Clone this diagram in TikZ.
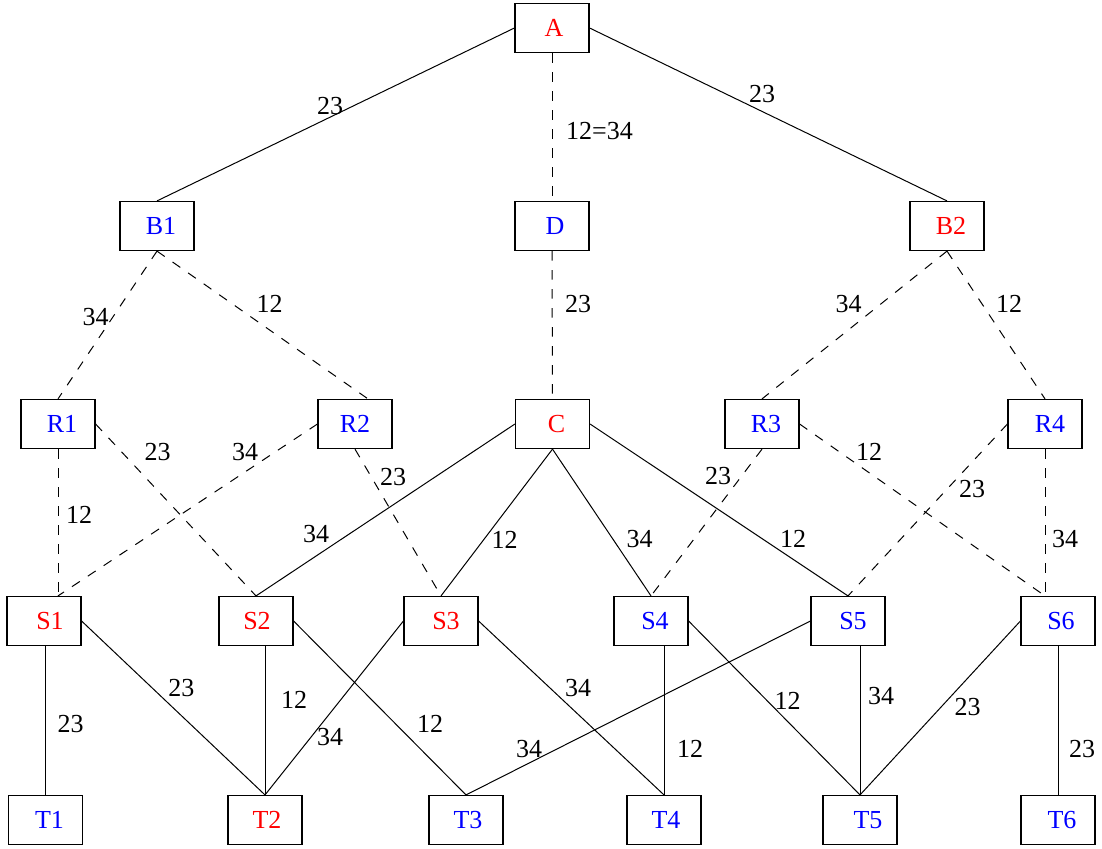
\documentclass[tikz,border=0pt]{standalone}
\usepackage{fontspec}
\setmainfont{Liberation Serif}
\newcommand\nodetxt[2]{\makebox[0pt]{\kern#1pt #2}}
\begin{document}
\begin{tikzpicture}[x=0.5pt,y=-0.5pt,
  vbox/.style={draw, line width=0.6pt, minimum width=37pt, minimum height=24.5pt, inner sep=0pt, font=\fontsize{13}{15}\selectfont},
  redn/.style={vbox, text=red},
  bluen/.style={vbox, text=blue},
  lbl/.style={inner sep=0pt, font=\fontsize{13}{15}\selectfont},
  solidedge/.style={line width=0.5pt},
  dashedge/.style={line width=0.5pt, dash pattern=on 4.7pt off 4.8pt}]
\useasboundingbox (0,0) rectangle (1102,848);
% nodes
\node[redn]  (A)  at (552,28)  {\nodetxt{2}{A}};
\node[bluen] (B1) at (157,226) {\nodetxt{4}{B1}};
\node[bluen] (D)  at (552,226) {\nodetxt{3}{D}};
\node[redn]  (B2) at (947,226) {\nodetxt{4}{B2}};
\node[bluen] (R1) at (58,424)  {\nodetxt{4}{R1}};
\node[bluen] (R2) at (355,424) {\nodetxt{0}{R2}};
\node[redn]  (C)  at (552.5,424) {\nodetxt{4}{C}};
\node[bluen] (R3) at (762,424) {\nodetxt{4}{R3}};
\node[bluen] (R4) at (1045,424) {\nodetxt{5}{R4}};
\node[redn]  (S1) at (44,621)  {\nodetxt{6}{S1}};
\node[redn]  (S2) at (256,621) {\nodetxt{1}{S2}};
\node[redn]  (S3) at (441,621) {\nodetxt{5}{S3}};
\node[bluen] (S4) at (651,621) {\nodetxt{4}{S4}};
\node[bluen] (S5) at (848,621) {\nodetxt{5}{S5}};
\node[bluen] (S6) at (1058,621) {\nodetxt{3}{S6}};
\node[bluen] (T1) at (45.5,820) {\nodetxt{4}{T1}};
\node[redn]  (T2) at (265,820) {\nodetxt{2}{T2}};
\node[bluen] (T3) at (466,820) {\nodetxt{2}{T3}};
\node[bluen] (T4) at (664,820) {\nodetxt{2}{T4}};
\node[bluen] (T5) at (860,820) {\nodetxt{8}{T5}};
\node[bluen] (T6) at (1058,820) {\nodetxt{4}{T6}};
% helper coordinates
\coordinate (s1top) at (R1.south |- S1.north);
\coordinate (s6top) at (R4.south |- S6.north);
% top edges
\draw[solidedge] (A.west) -- (B1.north);
\draw[solidedge] (A.east) -- (B2.north);
\draw[dashedge] (A.south) -- (D.north);
\draw[dashedge] (D.south) -- (C.north);
\draw[dashedge] (B1.south) -- (R1.north);
\draw[dashedge] (B1.south) -- ([xshift=6.5pt]R2.north);
\draw[dashedge] (B2.south) -- (R3.north);
\draw[dashedge] (B2.south) -- (R4.north);
% middle edges
\draw[dashedge] (R1.south) -- (s1top);
\draw[dashedge] (R2.west) -- (s1top);
\draw[dashedge] (R1.east) -- (S2.north);
\draw[dashedge] (R2.south) -- (S3.north);
\draw[solidedge] (C.west) -- (S2.north);
\draw[solidedge] (C.south) -- (S3.north);
\draw[solidedge] (C.south) -- (S4.north);
\draw[solidedge] (C.east) -- (S5.north);
\draw[dashedge] (R3.south) -- (S4.north);
\draw[dashedge] (R3.east) -- (s6top);
\draw[dashedge] (R4.west) -- (S5.north);
\draw[dashedge] (R4.south) -- (s6top);
% bottom edges
\draw[solidedge] (T1.north) -- (T1.north |- S1.south);
\draw[solidedge] (S1.east) -- (T2.north);
\draw[solidedge] (T2.north) -- (T2.north |- S2.south);
\draw[solidedge] (S3.west) -- (T2.north);
\draw[solidedge] (S2.east) -- (T3.north);
\draw[solidedge] (S5.west) -- (T3.north);
\draw[solidedge] (S3.east) -- (T4.north);
\draw[solidedge] (T4.north) -- (T4.north |- S4.south);
\draw[solidedge] (S4.east) -- (T5.north);
\draw[solidedge] (T5.north) -- (T5.north |- S5.south);
\draw[solidedge] (S6.west) -- (T5.north);
\draw[solidedge] (S6.south) -- (T6.north);
% labels
\node[lbl] (lAB1) at (330,106) {23};
\node[lbl] (lAB2) at (762,94) {23};
\node[lbl] (lAD) at (599.5,131) {12=34};
\node[lbl] (lDC) at (578,304) {23};
\node[lbl] (lB1R1) at (95.5,317) {34};
\node[lbl] (lB1R2) at (269.6,304) {12};
\node[lbl] (lB2R3) at (848.6,304) {34};
\node[lbl] (lB2R4) at (1009,304) {12};
\node[lbl] (lR1S1) at (79,515) {12};
\node[lbl] (lR1S2) at (157.5,452) {23};
\node[lbl] (lR2S1) at (245,452) {34};
\node[lbl] (lR2S3) at (393,477) {23};
\node[lbl] (lCS2) at (316,534) {34};
\node[lbl] (lCS3) at (504.6,539.5) {12};
\node[lbl] (lCS4) at (639.7,539) {34};
\node[lbl] (lCS5) at (793,539) {12};
\node[lbl] (lR3S4) at (718,476) {23};
\node[lbl] (lR3S6) at (869,452) {12};
\node[lbl] (lR4S5) at (972,489) {23};
\node[lbl] (lR4S6) at (1065,539) {34};
\node[lbl] (lS1T1) at (70.5,724) {23};
\node[lbl] (lS1T2) at (181.4,687.5) {23};
\node[lbl] (lS2T2) at (294,700) {12};
\node[lbl] (lS3T2) at (330,737) {34};
\node[lbl] (lS2T3) at (430,724) {12};
\node[lbl] (lS5T3) at (529,749) {34};
\node[lbl] (lS3T4) at (578,687.5) {34};
\node[lbl] (lS4T4) at (690,749) {12};
\node[lbl] (lS4T5) at (787.7,701) {12};
\node[lbl] (lS5T5) at (881,696) {34};
\node[lbl] (lS6T5) at (967.7,707.5) {23};
\node[lbl] (lS6T6) at (1082,749) {23};
\end{tikzpicture}
\end{document}
